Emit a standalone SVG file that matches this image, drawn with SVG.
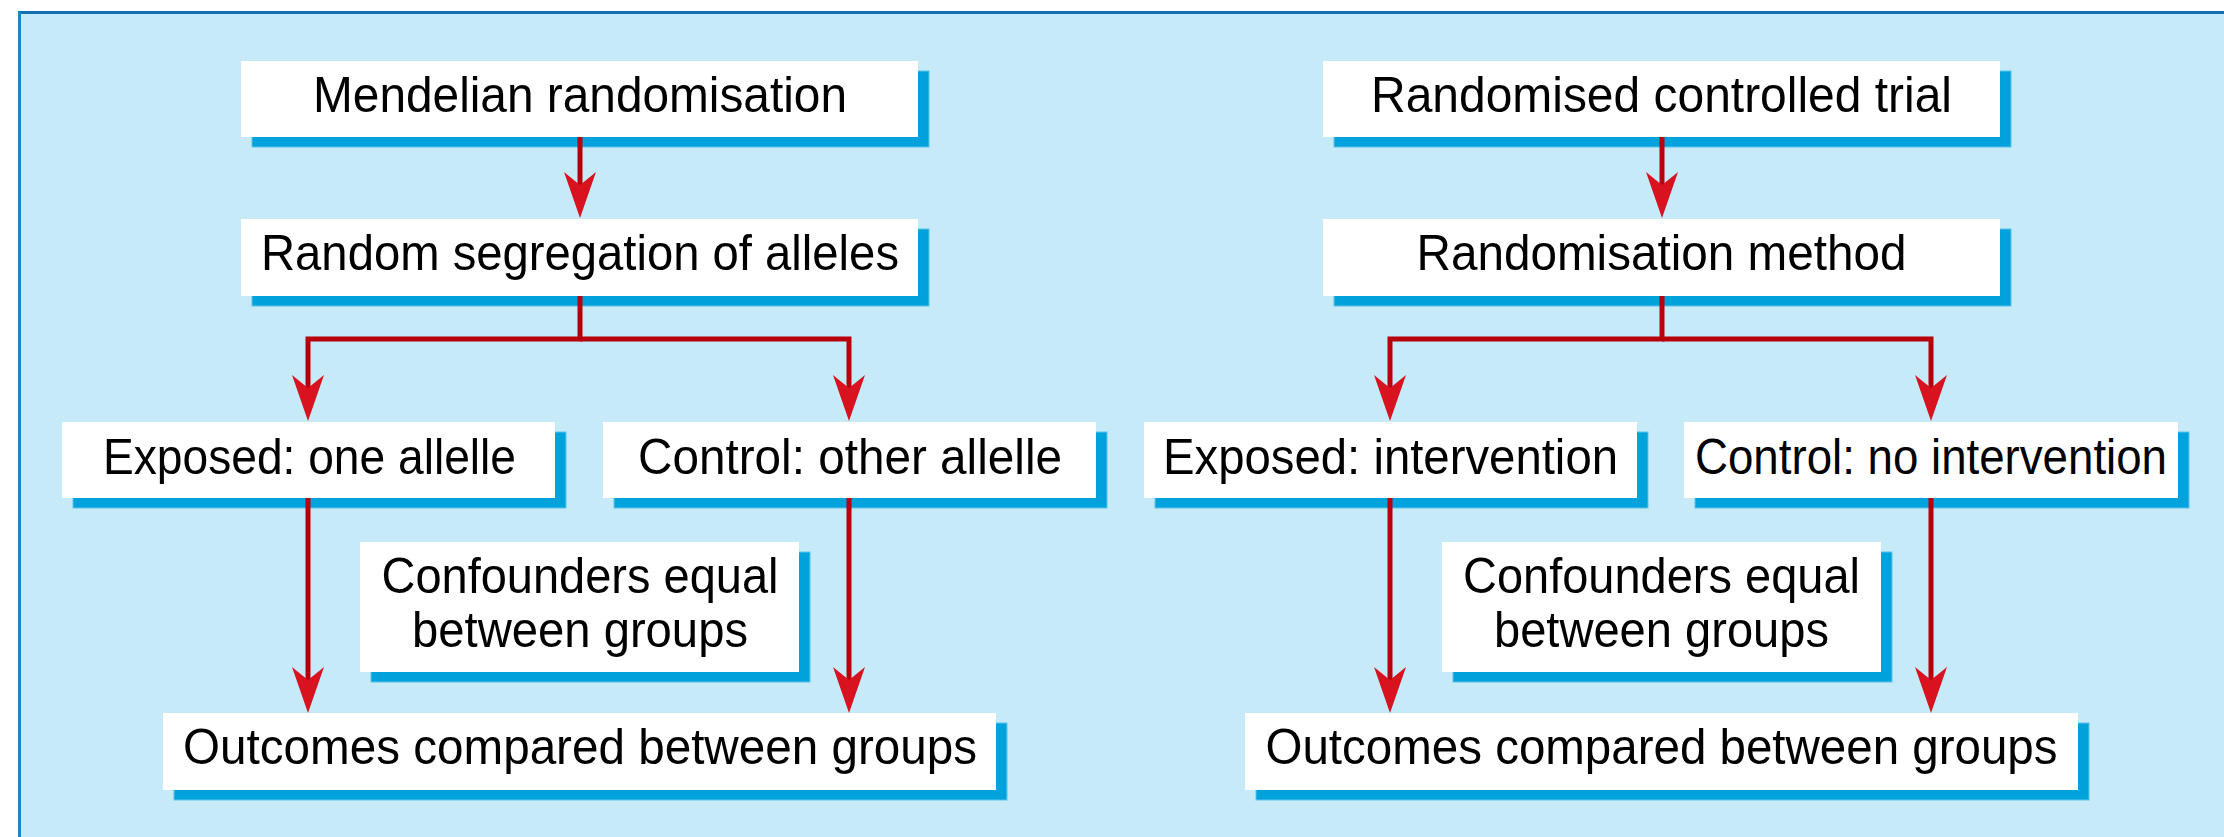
<svg xmlns="http://www.w3.org/2000/svg" width="2224" height="837" viewBox="0 0 2224 837">
  <defs>
    <style>
      .box { fill: #ffffff; }
      .shadow { fill: #00a2db; stroke: #5cc4ea; stroke-width: 1; }
      .label { font-family: "Liberation Sans", Arial, sans-serif; font-size: 50px; fill: #000000; text-anchor: middle; }
      .conn { fill: none; stroke: #b8000c; stroke-width: 5; stroke-linejoin: miter; marker-end: url(#arrow); }
    </style>
    <marker id="arrow" markerUnits="userSpaceOnUse" viewBox="-15 -18 50 36" markerWidth="50" markerHeight="36" refX="0" refY="0" orient="auto" overflow="visible">
      <path d="M33,0 L-13,-16 Q-4,-5 0,0 Q-4,5 -13,16 Z" fill="#d8121f"/>
    </marker>
  </defs>

  <!-- background panel -->
  <rect x="18" y="12" width="2206" height="825" fill="#c7eaf9"/>
  <line x1="18" y1="12.5" x2="2224" y2="12.5" stroke="#1670b0" stroke-width="3"/>
  <line x1="19.5" y1="12" x2="19.5" y2="837" stroke="#1a88c8" stroke-width="3"/>

  <!-- Left diagram -->
  <g id="mr-top">
    <rect class="shadow" x="252" y="71" width="677" height="76"/>
    <rect class="box" x="241" y="61" width="677" height="76"/>
    <text class="label" x="580" y="112" textLength="534" lengthAdjust="spacingAndGlyphs">Mendelian randomisation</text>
  </g>
  <g id="mr-segregation">
    <rect class="shadow" x="252" y="229" width="677" height="77"/>
    <rect class="box" x="241" y="219" width="677" height="77"/>
    <text class="label" x="580" y="270" textLength="638" lengthAdjust="spacingAndGlyphs">Random segregation of alleles</text>
  </g>
  <g id="mr-exposed">
    <rect class="shadow" x="73" y="432" width="493" height="76"/>
    <rect class="box" x="62" y="422" width="493" height="76"/>
    <text class="label" x="309.5" y="474" textLength="413" lengthAdjust="spacingAndGlyphs">Exposed: one allelle</text>
  </g>
  <g id="mr-control">
    <rect class="shadow" x="614" y="432" width="493" height="76"/>
    <rect class="box" x="603" y="422" width="493" height="76"/>
    <text class="label" x="850" y="474" textLength="424" lengthAdjust="spacingAndGlyphs">Control: other allelle</text>
  </g>
  <g id="mr-confounders">
    <rect class="shadow" x="371" y="552" width="439" height="130"/>
    <rect class="box" x="360" y="542" width="439" height="130"/>
    <text class="label" x="580" y="593" textLength="397" lengthAdjust="spacingAndGlyphs">Confounders equal</text>
    <text class="label" x="580" y="647" textLength="336" lengthAdjust="spacingAndGlyphs">between groups</text>
  </g>
  <g id="mr-outcomes">
    <rect class="shadow" x="174" y="723" width="833" height="77"/>
    <rect class="box" x="163" y="713" width="833" height="77"/>
    <text class="label" x="580" y="764" textLength="794" lengthAdjust="spacingAndGlyphs">Outcomes compared between groups</text>
  </g>

  <!-- Right diagram -->
  <g id="rct-top">
    <rect class="shadow" x="1334" y="71" width="677" height="76"/>
    <rect class="box" x="1323" y="61" width="677" height="76"/>
    <text class="label" x="1661.5" y="112" textLength="581" lengthAdjust="spacingAndGlyphs">Randomised controlled trial</text>
  </g>
  <g id="rct-method">
    <rect class="shadow" x="1334" y="229" width="677" height="77"/>
    <rect class="box" x="1323" y="219" width="677" height="77"/>
    <text class="label" x="1661.5" y="270" textLength="490" lengthAdjust="spacingAndGlyphs">Randomisation method</text>
  </g>
  <g id="rct-exposed">
    <rect class="shadow" x="1155" y="432" width="493" height="76"/>
    <rect class="box" x="1144" y="422" width="493" height="76"/>
    <text class="label" x="1390.5" y="474" textLength="455" lengthAdjust="spacingAndGlyphs">Exposed: intervention</text>
  </g>
  <g id="rct-control">
    <rect class="shadow" x="1695" y="432" width="494" height="76"/>
    <rect class="box" x="1684" y="422" width="494" height="76"/>
    <text class="label" x="1931" y="474" textLength="472" lengthAdjust="spacingAndGlyphs">Control: no intervention</text>
  </g>
  <g id="rct-confounders">
    <rect class="shadow" x="1453" y="552" width="439" height="130"/>
    <rect class="box" x="1442" y="542" width="439" height="130"/>
    <text class="label" x="1661.5" y="593" textLength="397" lengthAdjust="spacingAndGlyphs">Confounders equal</text>
    <text class="label" x="1661.5" y="647" textLength="335" lengthAdjust="spacingAndGlyphs">between groups</text>
  </g>
  <g id="rct-outcomes">
    <rect class="shadow" x="1256" y="723" width="833" height="77"/>
    <rect class="box" x="1245" y="713" width="833" height="77"/>
    <text class="label" x="1661.5" y="764" textLength="792" lengthAdjust="spacingAndGlyphs">Outcomes compared between groups</text>
  </g>

  <!-- Connectors -->
  <g id="connectors">
    <path class="conn" d="M580,137 V185"/>
    <path class="conn" d="M580,296 V339 H308 V388"/>
    <path class="conn" d="M580,339 H849 V388"/>
    <path class="conn" d="M308,498 V680"/>
    <path class="conn" d="M849,498 V680"/>

    <path class="conn" d="M1662,137 V185"/>
    <path class="conn" d="M1662,296 V339 H1390 V388"/>
    <path class="conn" d="M1662,339 H1931 V388"/>
    <path class="conn" d="M1390,498 V680"/>
    <path class="conn" d="M1931,498 V680"/>
  </g>
</svg>
